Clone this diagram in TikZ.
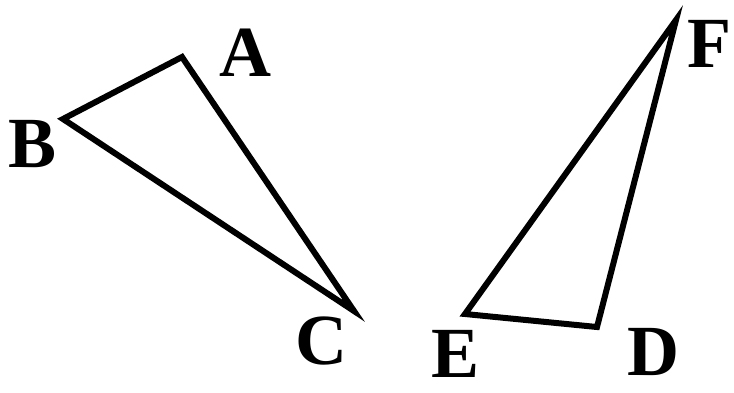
\documentclass[tikz,border=0pt]{standalone}
\usepackage{fontspec}
\setmainfont{Liberation Serif}
\usepackage{tikz}
\usetikzlibrary{positioning}

\begin{document}
\begin{tikzpicture}[
    x=1pt, y=-1pt,
    side/.style={draw=black, line width=6pt, line join=miter},
    vlabel/.style={anchor=base west, inner sep=0pt, font=\fontsize{72}{72}\selectfont\bfseries},
]
\useasboundingbox (0,0) rectangle (734,392);

% left triangle
\coordinate (A) at (182,57);
\coordinate (B) at (63,119);
\coordinate (C) at (354,311);
\draw[side] (A) -- (B) -- (C) -- cycle;

% right triangle
\coordinate (D) at (597,327);
\coordinate (E) at (465,314);
\coordinate (F) at (676,20);
\draw[side] (D) -- (E) -- (F) -- cycle;

\node[vlabel] (labA) at (219,76)  {A};
\node[vlabel] (labB) at (8,167)   {B};
\node[vlabel] (labC) at (295,364) {C};
\node[vlabel] (labD) at (627,375) {D};
\node[vlabel] (labE) at (431,377) {E};
\node[vlabel] (labF) at (687,67)  {F};
\end{tikzpicture}
\end{document}
